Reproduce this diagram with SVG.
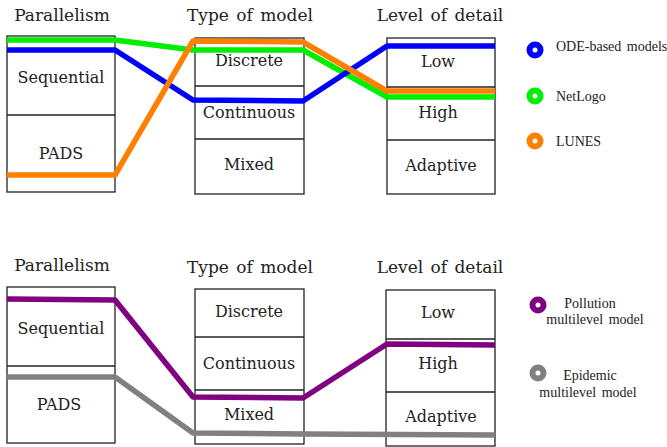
<svg xmlns="http://www.w3.org/2000/svg" width="667" height="447" viewBox="0 0 667 447">
<style>
.box{fill:#fff;stroke:#222;stroke-width:1.3}
.div{stroke:#222;stroke-width:1.3}
.t{font-family:"DejaVu Serif","Liberation Serif",serif;font-size:16px;fill:#222;text-anchor:middle}
.h{font-family:"DejaVu Serif","Liberation Serif",serif;font-size:17px;fill:#222;text-anchor:middle;word-spacing:2px}
.lg{font-family:"Liberation Serif","DejaVu Serif",serif;font-size:14px;fill:#222;word-spacing:2px}
.ln{fill:none;stroke-width:5.5;stroke-linejoin:round}
.mk{fill:#fff;stroke-width:6}
</style>
<rect width="667" height="447" fill="#fff"/>
<!-- top panel -->
<g id="top-parallelism">
<text class="h" x="62" y="21">Parallelism</text>
<rect class="box" x="7" y="36" width="108" height="156"/>
<line class="div" x1="7" y1="115" x2="115" y2="115"/>
<text class="t" x="61" y="83">Sequential</text>
<text class="t" x="61" y="159">PADS</text>
</g>
<g id="top-type">
<text class="h" x="250" y="21">Type of model</text>
<rect class="box" x="195" y="38" width="109" height="156"/>
<line class="div" x1="195" y1="86" x2="304" y2="86"/>
<line class="div" x1="195" y1="139" x2="304" y2="139"/>
<text class="t" x="249" y="66">Discrete</text>
<text class="t" x="249" y="118">Continuous</text>
<text class="t" x="249" y="170">Mixed</text>
</g>
<g id="top-detail">
<text class="h" x="440" y="21">Level of detail</text>
<rect class="box" x="387" y="38" width="108" height="156"/>
<line class="div" x1="387" y1="87" x2="495" y2="87"/>
<line class="div" x1="387" y1="140" x2="495" y2="140"/>
<text class="t" x="438" y="67">Low</text>
<text class="t" x="438" y="118">High</text>
<text class="t" x="441" y="171">Adaptive</text>
</g>
<g id="top-legend">
<circle class="mk" cx="535" cy="50" r="5.5" stroke="#0000ff"/>
<text class="lg" x="556" y="51">ODE-based models</text>
<circle class="mk" cx="535" cy="96" r="5.5" stroke="#00ee00"/>
<text class="lg" x="556" y="101">NetLogo</text>
<circle class="mk" cx="535" cy="141" r="5.5" stroke="#ff8000"/>
<text class="lg" x="556" y="146">LUNES</text>
</g>
<!-- bottom panel -->
<g id="bottom-parallelism">
<text class="h" x="62" y="271">Parallelism</text>
<rect class="box" x="7" y="287" width="108" height="156"/>
<line class="div" x1="7" y1="366" x2="115" y2="366"/>
<text class="t" x="61" y="334">Sequential</text>
<text class="t" x="59" y="410">PADS</text>
</g>
<g id="bottom-type">
<text class="h" x="250" y="273">Type of model</text>
<rect class="box" x="195" y="289" width="109" height="155"/>
<line class="div" x1="195" y1="337" x2="304" y2="337"/>
<line class="div" x1="195" y1="390" x2="304" y2="390"/>
<text class="t" x="249" y="317">Discrete</text>
<text class="t" x="249" y="369">Continuous</text>
<text class="t" x="249" y="420">Mixed</text>
</g>
<g id="bottom-detail">
<text class="h" x="440" y="273">Level of detail</text>
<rect class="box" x="386" y="290" width="109" height="156"/>
<line class="div" x1="386" y1="339" x2="495" y2="339"/>
<line class="div" x1="386" y1="392" x2="495" y2="392"/>
<text class="t" x="438" y="318">Low</text>
<text class="t" x="438" y="369">High</text>
<text class="t" x="441" y="422">Adaptive</text>
</g>
<g id="bottom-legend">
<circle class="mk" cx="538" cy="305" r="5.5" stroke="#800080"/>
<text class="lg" x="590" y="308" text-anchor="middle">Pollution</text>
<text class="lg" x="595" y="324" text-anchor="middle">multilevel model</text>
<circle class="mk" cx="538" cy="373" r="5.5" stroke="#808080"/>
<text class="lg" x="590" y="380" text-anchor="middle">Epidemic</text>
<text class="lg" x="588" y="397" text-anchor="middle">multilevel model</text>
</g>
<g id="connectors">
<polyline class="ln" stroke="#00ee00" points="7,40 115,40 193,50 303,50 387,97 495,97"/>
<polyline class="ln" stroke="#0000ff" points="7,50 115,50 193,100 303,101 387,46 495,46"/>
<polyline class="ln" stroke="#ff8000" points="7,175 115,175 193,41 303,42 387,91 495,91"/>
<polyline class="ln" stroke="#800080" points="7,299 115,300 193,397 303,398 387,344 495,345"/>
<polyline class="ln" stroke="#808080" points="7,377 115,377 193,433 303,434 495,435"/>
</g>
</svg>
